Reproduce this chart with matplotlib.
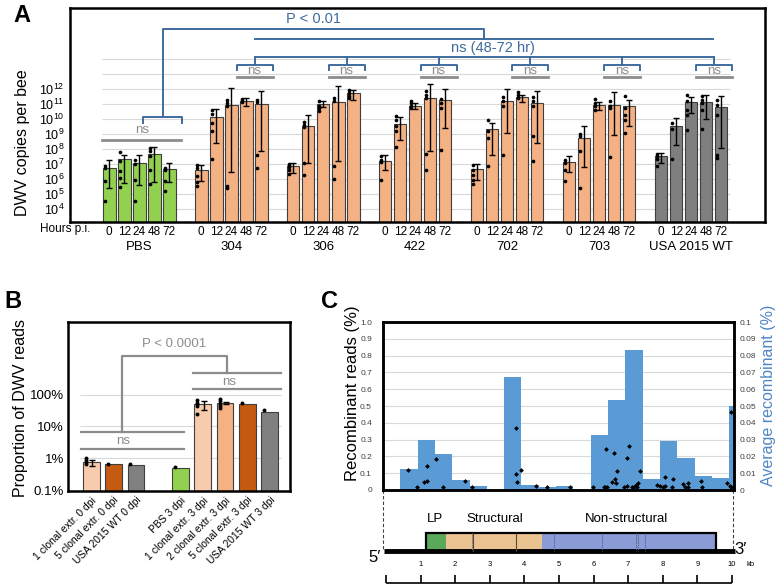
import matplotlib
matplotlib.use('Agg')
import matplotlib.pyplot as plt
import matplotlib.transforms as mtrans
import numpy as np

plt.rcParams['font.family'] = ['Liberation Sans', 'DejaVu Sans']
plt.rcParams['mathtext.fontset'] = 'custom'
plt.rcParams['mathtext.rm'] = 'Liberation Sans'

W, H = 780, 588

# ---------------- panel A data (log10 copies per bee) ----------------
groups_a = ['PBS', '304', '306', '422', '702', '703', 'USA 2015 WT']
hours = ['0', '12', '24', '48', '72']
colors_a = ['#92D050', '#F4B183', '#F4B183', '#F4B183', '#F4B183', '#F4B183', '#7F7F7F']
a_mean = [[6.73, 7.33, 7.07, 7.67, 6.67],
          [6.58, 10.11, 10.91, 11.18, 11.0],
          [6.84, 9.51, 11.0, 11.13, 11.73],
          [7.18, 9.69, 10.89, 11.4, 11.24],
          [6.67, 9.33, 11.18, 11.44, 11.07],
          [7.13, 8.73, 10.91, 10.91, 10.89],
          [7.51, 9.51, 11.13, 11.13, 10.8]]
a_hi = [[7.29, 7.62, 7.62, 8.11, 7.07],
        [6.91, 10.69, 12.07, 11.4, 11.89],
        [7.07, 10.29, 11.22, 12.18, 11.96],
        [7.62, 10.11, 11.07, 12.33, 12.02],
        [7.0, 9.73, 12.0, 11.62, 11.84],
        [7.51, 9.51, 11.13, 11.8, 11.24],
        [7.73, 10.07, 11.44, 11.58, 11.51]]
a_lo = [[5.4, 5.73, 5.62, 5.78, 5.78],
        [5.84, 8.4, 6.44, 10.84, 7.84],
        [6.4, 7.07, 10.78, 7.22, 11.29],
        [6.62, 8.62, 10.67, 7.84, 9.4],
        [5.96, 7.62, 9.07, 11.13, 8.4],
        [6.44, 6.78, 10.62, 8.96, 9.56],
        [7.07, 8.24, 10.4, 10.0, 8.07]]
a_dots = [
    [[6.84, 6.73, 5.84, 4.51], [7.78, 7.18, 6.51, 6.07, 5.47], [7.29, 7.02, 5.96, 4.51],
     [8.07, 7.84, 7.51, 6.62, 5.67], [6.73, 6.58, 5.89, 5.18]],
    [[6.91, 6.73, 6.18, 5.78, 5.51], [10.58, 10.33, 9.73, 9.18, 7.33], [11.24, 11.07, 10.89, 5.56, 5.4],
     [11.36, 11.22, 11.11], [11.29, 11.11, 7.62, 6.73]],
    [[7.02, 6.91, 6.78, 6.62, 6.36], [9.8, 9.62, 9.44, 7.07, 6.24], [11.18, 10.89, 10.73, 10.51],
     [11.4, 11.22, 6.89, 6.0], [11.96, 11.73, 11.56, 11.4]],
    [[7.51, 7.29, 7.11, 5.96], [10.18, 9.91, 9.51, 9.18, 8.11], [11.22, 11.07, 10.89, 10.73],
     [11.84, 11.62, 11.4, 7.67, 6.58], [11.36, 11.07, 10.73, 7.96]],
    [[6.91, 6.62, 6.29, 5.91, 5.67], [9.96, 9.22, 8.73, 6.84], [11.47, 11.18, 10.89, 7.58],
     [11.82, 11.58, 11.4], [11.44, 11.22, 10.89, 8.84, 7.18]],
    [[7.29, 7.07, 6.62, 5.89], [9.02, 8.84, 7.84, 5.4], [11.33, 11.07, 10.84, 10.62],
     [11.18, 10.89, 10.73, 7.47], [11.51, 10.73, 10.29, 9.96, 9.07]],
    [[7.69, 7.51, 7.33, 6.84], [9.73, 9.33, 7.36], [11.62, 11.22, 10.62, 10.29, 9.29],
     [11.56, 11.29, 11.07, 10.62, 9.33], [11.29, 10.96, 10.29, 7.62, 7.4]],
]

# ---------------- panel B data (fraction of DWV reads) ----------------
b_labels = ['1 clonal extr. 0 dpi', '5 clonal extr. 0 dpi', 'USA 2015 WT 0 dpi', 'PBS 3 dpi',
            '1 clonal extr. 3 dpi', '2 clonal extr. 3 dpi', '5 clonal extr. 3 dpi', 'USA 2015 WT 3 dpi']
b_pos = [0, 1, 2, 4, 5, 6, 7, 8]
b_colors = ['#F8CBAD', '#C55A11', '#808080', '#92D050', '#F8CBAD', '#F4B183', '#C55A11', '#808080']
b_mean = [0.0075, 0.0065, 0.006, 0.0049, 0.49, 0.56, 0.52, 0.29]
b_err_lo = [0.0056, None, None, None, 0.32, 0.49, None, None]
b_err_hi = [0.0087, None, None, None, 0.65, 0.60, None, None]
b_dots = [[0.010, 0.0089, 0.0076, 0.0068], [0.0068], [0.0065], [0.0054],
          [0.66, 0.56, 0.49, 0.43, 0.24], [0.74, 0.62, 0.52, 0.43, 0.38], [0.55], [0.32]]

# ---------------- panel C data ----------------
bin_left = [0.5, 1.0, 1.5, 2.0, 2.5, 3.5, 4.0, 4.5, 5.0, 6.0, 6.5, 7.0, 7.5, 8.0, 8.5, 9.0, 9.5, 10.0]
bin_width = [0.5] * 17 + [0.14]
avg_recomb = [0.0125, 0.030, 0.0215, 0.006, 0.0025, 0.0675, 0.003, 0.002, 0.0025,
              0.0325, 0.0535, 0.0835, 0.0065, 0.029, 0.019, 0.0083, 0.007, 0.050]
dot_kb = [0.71, 0.97, 1.19, 1.26, 1.26, 1.53, 1.74, 2.37, 2.56, 3.84, 3.84, 3.86, 3.98, 4.42, 4.73,
          5.40, 6.06, 6.37, 6.42, 6.47, 6.45, 6.66, 6.61, 6.71, 6.73, 6.75, 6.97, 7.04, 7.06, 7.12,
          7.19, 7.24, 7.31, 7.36, 7.33, 7.43, 7.91, 8.01, 8.10, 8.15, 8.15, 8.34, 8.39, 8.68, 8.73,
          8.80, 8.82, 9.19, 9.21, 9.93, 10.01, 10.05, 10.05]
dot_pct = [0.119, 0.02, 0.046, 0.054, 0.14, 0.185, 0.016, 0.055, 0.02, 0.37, 0.095, 0.05, 0.119,
           0.026, 0.016, 0.02, 0.016, 0.02, 0.02, 0.02, 0.244, 0.222, 0.048, 0.063, 0.043, 0.113,
           0.02, 0.024, 0.19, 0.262, 0.02, 0.02, 0.03, 0.04, 0.016, 0.113, 0.03, 0.024, 0.02, 0.026,
           0.08, 0.02, 0.065, 0.033, 0.02, 0.04, 0.02, 0.054, 0.02, 0.04, 0.026, 0.02, 0.466]

# genome map (kb)
region_names = ['LP', 'Structural', 'Non-structural']
region_start = [1.16, 1.73, 4.51]
region_end = [1.73, 4.51, 9.54]
region_colors = ['#5AA85A', '#EBC391', '#8A9BD6']
solid_marks = [2.51, 3.76]
dotted_marks = [2.49, 4.86, 6.24, 7.23, 7.28, 7.49]

BLUE = '#3F6C9F'
GRAY = '#8C8C8C'


def px_axes(fig, x0, y0, x1, y1):
    return fig.add_axes([x0 / W, 1 - y1 / H, (x1 - x0) / W, (y1 - y0) / H])


def bracket(ax, x0, x1, ytop, ybot, color, lw=1.4):
    ax.plot([x0, x0, x1, x1], [ybot, ytop, ytop, ybot], color=color, lw=lw, clip_on=False)


fig = plt.figure(figsize=(W / 100, H / 100), dpi=100)

# =============== Panel A ===============
ax = px_axes(fig, 70, 8, 765, 222)
G = 6.13
allx, allt = [], []
for g in range(7):
    xs = g * G + np.arange(5)
    m = 10 ** np.array(a_mean[g])
    ax.bar(xs, m, width=0.83, bottom=1e3, color=colors_a[g], edgecolor='#3F3F3F', lw=0.8, zorder=2)
    ax.errorbar(xs, m, yerr=[m - 10 ** np.array(a_lo[g]), 10 ** np.array(a_hi[g]) - m],
                fmt='none', ecolor='black', elinewidth=1, capsize=2, capthick=1, zorder=3)
    for i in range(5):
        d = 10 ** np.array(a_dots[g][i])
        ax.scatter(np.full(len(d), xs[i] - 0.3), d, s=7, color='black', zorder=4, lw=0)
    allx += list(xs)
    allt += hours
ax.set_yscale('log')
ax.set_xlim(-2.62, 43.7)
ax.set_ylim(10 ** 3.133, 10 ** 17.4)
ax.hlines(10.0 ** np.arange(4, 15), -0.5, 41.4, color='#D9D9D9', lw=0.8, zorder=0)
ax.set_yticks(10.0 ** np.arange(4, 13))
ax.set_yticklabels([f'$10^{{{e}}}$' for e in range(4, 13)], fontsize=9)
ax.yaxis.set_minor_locator(matplotlib.ticker.NullLocator())
ax.set_xticks(allx)
ax.set_xticklabels(allt, fontsize=8.5)
ax.tick_params(length=0, pad=3)
ax.tick_params(axis='y', pad=4)
for s in ax.spines.values():
    s.set_linewidth(1.8)
tr = mtrans.blended_transform_factory(ax.transData, ax.transAxes)
for g, name in enumerate(groups_a):
    ax.text(g * G + 2, -0.117, name, transform=tr, ha='center', va='center', fontsize=9.5)
ax.text(-1.25, -0.033, 'Hours p.i.', transform=tr, ha='right', va='center', fontsize=8.5)

# brackets (heights in log10 units)
centers = []
for g in range(7):
    x0, x1 = g * G + 3 - 0.65, g * G + 4 + 0.75
    c = (x0 + x1) / 2
    centers.append(c)
    if g == 0:
        bracket(ax, x0 - 0.1, x1 + 0.1, 10 ** 10.13, 10 ** 9.73, BLUE)
        ax.plot([c, c], [10 ** 10.13, 10 ** 10.6], color=BLUE, lw=1.4)
        ax.text(2.2, 10 ** 9.27, 'ns', color=GRAY, ha='center', va='center', fontsize=9.5)
        ax.plot([-0.5, 4.8], [10 ** 8.6] * 2, color=GRAY, lw=2)
    else:
        bracket(ax, x0, x1, 10 ** 13.63, 10 ** 13.27, BLUE)
        ax.plot([c, c], [10 ** 13.63, 10 ** 14.13], color=BLUE, lw=1.4)
        ax.text(c, 10 ** 13.2, 'ns', color=GRAY, ha='center', va='center', fontsize=9.5)
        ax.plot([x0, x1], [10 ** 12.77] * 2, color=GRAY, lw=2)
ax.plot([centers[1], centers[6]], [10 ** 14.13] * 2, color=BLUE, lw=1.4)
ax.plot([centers[1], centers[6] - 0.1], [10 ** 15.3] * 2, color=BLUE, lw=1.4)
mid = (centers[1] + centers[6] - 0.1) / 2
ax.text(mid + 0.6, 10 ** 14.73, 'ns (48-72 hr)', color=BLUE, ha='center', va='center', fontsize=10.5)
ax.plot([centers[0], centers[0], mid, mid], [10 ** 10.6, 10 ** 16.0, 10 ** 16.0, 10 ** 15.3],
        color=BLUE, lw=1.4)
ax.text(13.6, 10 ** 16.67, 'P < 0.01', color=BLUE, ha='center', va='center', fontsize=10.5)

fig.text(23 / W, 1 - 143 / H, 'DWV copies per bee', rotation=90, ha='center', va='center', fontsize=11.5)
fig.text(22 / W, 1 - 16 / H, 'A', fontsize=17, weight='bold', ha='center', va='center')

# =============== Panel B ===============
bx = px_axes(fig, 68, 322, 290, 491)
bx.bar(b_pos, b_mean, width=0.75, bottom=1e-4, color=b_colors, edgecolor='#3F3F3F', lw=0.8, zorder=2)
for i, p in enumerate(b_pos):
    if b_err_lo[i] is not None:
        bx.errorbar([p + 0.05], [b_mean[i]], yerr=[[b_mean[i] - b_err_lo[i]], [b_err_hi[i] - b_mean[i]]],
                    fmt='none', ecolor='black', elinewidth=1, capsize=2.5, capthick=1, zorder=3)
    bx.scatter(np.full(len(b_dots[i]), p - 0.25), b_dots[i], s=8, color='black', zorder=4, lw=0)
bx.set_yscale('log')
bx.set_xlim(-1.047, 8.91)
bx.set_ylim(10 ** -3.03, 10 ** 2.28)
bx.hlines([0.01, 0.1, 1], -0.51, 8.5, color='#D9D9D9', lw=0.8, zorder=0)
bx.set_yticks([0.001, 0.01, 0.1, 1])
bx.set_yticklabels(['0.1%', '1%', '10%', '100%'], fontsize=9.5)
bx.yaxis.set_minor_locator(matplotlib.ticker.NullLocator())
bx.set_xticks(b_pos)
bx.set_xticklabels(b_labels, rotation=45, ha='right', rotation_mode='anchor', fontsize=7.5)
bx.tick_params(length=0, pad=3)
for s in bx.spines.values():
    s.set_linewidth(1.8)


def lg(v):
    return 10 ** v


bx.plot([1.37, 1.37, 6.09, 6.09], [lg(-1.19), lg(1.22), lg(1.22), lg(0.69)], color=GRAY, lw=1.6)
bx.text(3.7, lg(1.59), 'P < 0.0001', color=GRAY, ha='center', va='center', fontsize=9.5)
bx.plot([4.56, 8.5], [lg(0.69)] * 2, color=GRAY, lw=1.6)
bx.plot([4.56, 8.5], [lg(0.19)] * 2, color=GRAY, lw=1.6)
bx.text(6.17, lg(0.41), 'ns', color=GRAY, ha='center', va='center', fontsize=9.5)
bx.plot([-0.46, 4.15], [lg(-1.19)] * 2, color=GRAY, lw=1.6)
bx.plot([-0.46, 4.15], [lg(-1.72)] * 2, color=GRAY, lw=1.6)
bx.text(1.42, lg(-1.47), 'ns', color=GRAY, ha='center', va='center', fontsize=9.5)

fig.text(21 / W, 1 - 408 / H, 'Proportion of DWV reads', rotation=90, ha='center', va='center', fontsize=11.5)
fig.text(13 / W, 1 - 302 / H, 'B', fontsize=17, weight='bold', ha='center', va='center')

# =============== Panel C ===============
cx = px_axes(fig, 383, 322, 734, 490)
cx2 = cx.twinx()
cx.set_zorder(cx2.get_zorder() + 1)
cx.patch.set_visible(False)
cx2.hlines(np.arange(0.01, 0.1, 0.01), 0, 10.14, color='#D9D9D9', lw=0.8, zorder=0)
cx2.bar(bin_left, avg_recomb, width=bin_width, align='edge', color='#5B9BD5', zorder=2)
cx.scatter(dot_kb, dot_pct, marker='D', s=6, color='black', lw=0, zorder=4)
cx.set_xlim(0, 10.14)
cx.set_ylim(0, 1.0)
cx2.set_ylim(0, 0.1)
cx.set_xticks([])
cx.set_yticks(np.arange(0, 1.01, 0.1))
cx.set_yticklabels(['0'] + [f'{v:.1f}' for v in np.arange(0.1, 1.01, 0.1)], fontsize=6, color='#404040')
cx2.set_yticks(np.arange(0, 0.101, 0.01))
cx2.set_yticklabels(['0'] + [f'{v:.2f}'.rstrip('0') for v in np.arange(0.01, 0.101, 0.01)],
                    fontsize=6, color='#404040')
cx.tick_params(length=0, pad=8)
cx2.tick_params(length=0, pad=4)
for a in (cx, cx2):
    for s in a.spines.values():
        s.set_linewidth(1.8)

fig.text(352 / W, 1 - 393 / H, 'Recombinant reads (%)', rotation=90, ha='center', va='center', fontsize=12)
fig.text(768 / W, 1 - 395 / H, 'Average recombinant (%)', rotation=90, ha='center', va='center',
         fontsize=11.5, color='#4F86C6')
fig.text(329 / W, 1 - 302 / H, 'C', fontsize=17, weight='bold', ha='center', va='center')

# genome map
gx = px_axes(fig, 330, 492, 770, 588)
gx.set_xlim(-1.618, 11.098)
gx.set_ylim(96, 0)
gx.axis('off')
gx.vlines([-0.087, 10.03], -2, 59, colors='#404040', linestyles=(0, (3, 2)), lw=0.8, clip_on=False)
gx.hlines(59, -0.05, 10.1, colors='black', lw=3.5)
for nm, s0, s1, col in zip(region_names, region_start, region_end, region_colors):
    gx.barh(50, s1 - s0, left=s0, height=18, color=col, edgecolor='none')
gx.barh(50, region_end[-1] - region_start[0], left=region_start[0], height=18,
        fill=False, edgecolor='black', lw=1.6)
gx.vlines(solid_marks, 41, 59, colors='#5A4A30', lw=0.8)
gx.vlines(dotted_marks, 41, 59, colors='#44557A', lw=0.7, linestyles=(0, (1, 1)))
gx.text(1.42, 27, 'LP', ha='center', va='center', fontsize=9.5)
gx.text(3.15, 27, 'Structural', ha='center', va='center', fontsize=9.5)
gx.text(6.94, 27, 'Non-structural', ha='center', va='center', fontsize=9.5)
gx.text(-0.32, 66, "5\u2032", ha='center', va='center', fontsize=12)
gx.text(10.25, 58, "3\u2032", ha='center', va='center', fontsize=12)
gx.hlines(91, 0, 10, colors='black', lw=1.2)
gx.vlines(np.arange(0, 11), 83, 91, colors='black', lw=1.2)
for k in range(1, 11):
    gx.text(k, 73, str(k), ha='center', va='center', fontsize=5.5)
gx.text(10.55, 73, 'kb', ha='center', va='center', fontsize=5.5)

fig.savefig('out.png', dpi=100)
